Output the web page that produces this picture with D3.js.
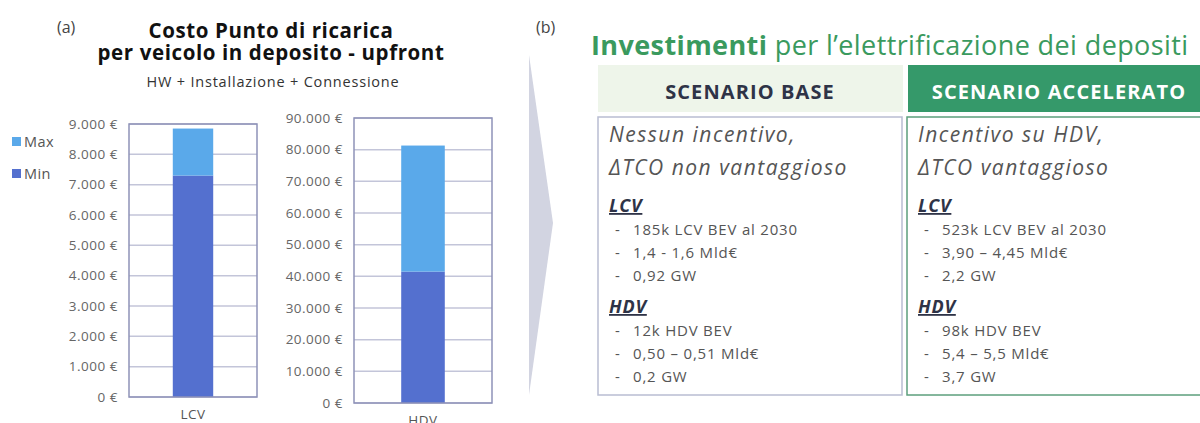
<!DOCTYPE html>
<html>
<head>
<meta charset="utf-8">
<script src="https://cdn.jsdelivr.net/npm/d3@7"></script>
<style>
  body { margin: 0; background: #fff; }
  svg { display: block; font-family: "Open Sans", sans-serif; }
</style>
</head>
<body>
<svg id="chart" width="1200" height="423"></svg>
<script>
// bar chart data (a)
var categories = ["LCV", "HDV"];
var minValues = [7300, 41500];
var maxValues = [1550, 39800]; // extra on top of min
var yMaxes = [9000, 90000];
var seriesNames = ["Max", "Min"];

// scenario texts (b)
var scenarioTitles = ["SCENARIO BASE", "SCENARIO ACCELERATO"];
var scenarioIntro = [
  ["Nessun incentivo,", "\u0394TCO non vantaggioso"],
  ["Incentivo su HDV,", "\u0394TCO vantaggioso"]
];
var lcvBullets = [
  ["185k LCV BEV al 2030", "1,4 - 1,6 Mld\u20ac", "0,92 GW"],
  ["523k LCV BEV al 2030", "3,90 \u2013 4,45 Mld\u20ac", "2,2 GW"]
];
var hdvBullets = [
  ["12k HDV BEV", "0,50 \u2013 0,51 Mld\u20ac", "0,2 GW"],
  ["98k HDV BEV", "5,4 \u2013 5,5 Mld\u20ac", "3,7 GW"]
];

var colMin = "#5470cf";
var colMax = "#5aa9ea";

var it = d3.formatLocale({ decimal: ",", thousands: ".", grouping: [3], currency: ["", " \u20ac"] });
var fmt = it.format("$,");

var svg = d3.select("#chart");

// ---- panel (a) titles
svg.append("text").attr("x", 57).attr("y", 33).attr("font-size", 16).attr("fill", "#444").text("(a)");
svg.append("text").attr("x", 271).attr("y", 38).attr("text-anchor", "middle").attr("letter-spacing", 0.6)
  .attr("font-size", 20.5).attr("font-weight", 700).attr("fill", "#111").text("Costo Punto di ricarica");
svg.append("text").attr("x", 271).attr("y", 60).attr("text-anchor", "middle").attr("letter-spacing", 0.6)
  .attr("font-size", 20.5).attr("font-weight", 700).attr("fill", "#111").text("per veicolo in deposito - upfront");
svg.append("text").attr("x", 273).attr("y", 87).attr("text-anchor", "middle").attr("letter-spacing", 0.8)
  .attr("font-size", 14.5).attr("fill", "#333").text("HW + Installazione + Connessione");

// legend
var legend = svg.append("g").selectAll("g").data(seriesNames).enter().append("g")
  .attr("transform", function (d, i) { return "translate(12," + (137 + i * 32) + ")"; });
legend.append("rect").attr("width", 9).attr("height", 9)
  .attr("fill", function (d) { return d === "Max" ? colMax : colMin; });
legend.append("text").attr("x", 12).attr("y", 9.5).attr("font-size", 14.5).attr("letter-spacing", 0.4)
  .attr("fill", "#555").text(function (d) { return d; });

// each category gets its own little chart
var boxes = [
  { x0: 129, x1: 257, y0: 124, y1: 397 },
  { x0: 354, x1: 492, y0: 118, y1: 403 }
];

categories.forEach(function (cat, i) {
  var b = boxes[i];
  var x = d3.scaleBand().domain([cat]).range([b.x0, b.x1]).padding(0.52);
  var y = d3.scaleLinear().domain([0, yMaxes[i]]).range([b.y1, b.y0]);
  var g = svg.append("g");

  // gridlines
  g.selectAll(".grid").data(y.ticks(9)).enter().append("line")
    .attr("x1", b.x0).attr("x2", b.x1)
    .attr("y1", function (d) { return y(d); }).attr("y2", function (d) { return y(d); })
    .attr("stroke", "#c3c5d9").attr("stroke-width", 1.5);

  var yAxis = g.append("g").attr("transform", "translate(" + b.x0 + ",0)")
    .call(d3.axisLeft(y).ticks(9).tickSize(0).tickPadding(11).tickFormat(fmt));
  yAxis.select(".domain").remove();
  yAxis.selectAll("text").attr("font-size", 13.5).attr("fill", "#666").attr("letter-spacing", 0.5)
    .attr("font-family", "Open Sans, sans-serif");

  // stacked bars
  g.append("rect").attr("x", x(cat)).attr("width", x.bandwidth())
    .attr("y", y(minValues[i])).attr("height", y(0) - y(minValues[i])).attr("fill", colMin);
  g.append("rect").attr("x", x(cat)).attr("width", x.bandwidth())
    .attr("y", y(minValues[i] + maxValues[i]))
    .attr("height", y(minValues[i]) - y(minValues[i] + maxValues[i])).attr("fill", colMax);

  // frame
  g.append("rect").attr("x", b.x0).attr("y", b.y0).attr("width", b.x1 - b.x0).attr("height", b.y1 - b.y0)
    .attr("fill", "none").attr("stroke", "#8e92b8").attr("stroke-width", 1.5);

  var xAxis = g.append("g").attr("transform", "translate(0," + b.y1 + ")")
    .call(d3.axisBottom(x).tickSize(0).tickPadding(12));
  xAxis.select(".domain").remove();
  xAxis.selectAll("text").attr("font-size", 13.5).attr("fill", "#555").attr("letter-spacing", 0.5)
    .attr("font-family", "Open Sans, sans-serif");
});

// chevron between panels
svg.append("path").attr("d", "M529,55 L553,223 L529,395 Z").attr("fill", "#d2d4e1");

// ---- panel (b)
svg.append("text").attr("x", 536).attr("y", 33).attr("font-size", 16).attr("fill", "#444").text("(b)");
var head = svg.append("text").attr("x", 591).attr("y", 55).attr("font-size", 27).attr("letter-spacing", 0.4)
  .attr("fill", "#3a9a5e");
head.append("tspan").attr("font-weight", 700).text("Investimenti");
head.append("tspan").text(" per l\u2019elettrificazione dei depositi");

var cols = [
  { x: 598, w: 305, bg: "#eef5ea", fg: "#2e3347", border: "#b9bdd2" },
  { x: 908, w: 300, bg: "#35996a", fg: "#ffffff", border: "#5c9f7c" }
];

scenarioTitles.forEach(function (t, i) {
  var c = cols[i];
  svg.append("rect").attr("x", c.x).attr("y", 65).attr("width", c.w).attr("height", 47).attr("fill", c.bg);
  svg.append("text").attr("x", c.x + (i === 0 ? 152 : 151)).attr("y", 99).attr("text-anchor", "middle")
    .attr("font-size", 20).attr("letter-spacing", 1.1).attr("font-weight", 700).attr("fill", c.fg).text(t);

  var bx = i === 0 ? 598 : 907;
  svg.append("rect").attr("x", bx).attr("y", 117).attr("width", i === 0 ? 304 : 310).attr("height", 278)
    .attr("fill", "#fff").attr("stroke", c.border).attr("stroke-width", 1.5);

  var tx = bx + 11;
  var g = svg.append("g");
  g.selectAll(".intro").data(scenarioIntro[i]).enter().append("text")
    .attr("x", tx).attr("y", function (d, j) { return 142 + j * 33; })
    .attr("font-size", 21).attr("letter-spacing", 1.5).attr("font-style", "italic").attr("fill", "#555")
    .text(function (d) { return d; });

  function section(label, items, y0) {
    g.append("text").attr("x", tx).attr("y", y0).attr("font-size", 18).attr("letter-spacing", 0.8)
      .attr("font-weight", 700).attr("font-style", "italic").attr("fill", "#2e3347")
      .attr("text-decoration", "underline").text(label);
    var rows = g.selectAll(null).data(items).enter().append("g")
      .attr("transform", function (d, j) { return "translate(0," + (y0 + 23 + j * 23) + ")"; });
    rows.append("text").attr("x", tx + 6).attr("font-size", 15).attr("fill", "#555").text("-");
    rows.append("text").attr("x", tx + 24).attr("font-size", 15).attr("letter-spacing", 0.8)
      .attr("fill", "#555").text(function (d) { return d; });
  }
  section("LCV", lcvBullets[i], 212);
  section("HDV", hdvBullets[i], 313);
});
</script>
</body>
</html>
